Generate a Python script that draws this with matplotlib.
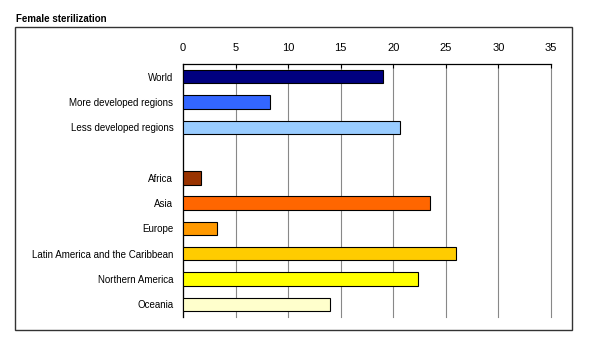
import matplotlib.pyplot as plt
from matplotlib.patches import Rectangle

plt.rcParams['font.family'] = ['Liberation Sans', 'DejaVu Sans']

regions = ["World", "More developed regions", "Less developed regions", "",
           "Africa", "Asia", "Europe", "Latin America and the Caribbean",
           "Northern America", "Oceania"]
values = [19.0, 8.3, 20.6, None, 1.7, 23.5, 3.2, 26.0, 22.4, 14.0]
colors = ["#000080", "#3366FF", "#99CCFF", None, "#993300", "#FF6600",
          "#FF9900", "#FFCC00", "#FFFF00", "#FFFFCC"]
ticks = [0, 5, 10, 15, 20, 25, 30, 35]

fig = plt.figure(figsize=(5.92, 3.49), dpi=100)
ax = fig.add_axes([0.3091, 0.0917, 0.6216, 0.7249])

for i, (v, c) in enumerate(zip(values, colors)):
    if v is None:
        continue
    ax.barh(i, v, height=0.53, color=c, edgecolor="black", linewidth=0.8, zorder=3)

ax.set_ylim(len(regions) - 0.5, -0.5)
ax.set_xlim(0, 35)
ax.set_xticks(ticks)
ax.set_yticks(range(len(regions)))
ax.set_yticklabels(regions)
ax.xaxis.tick_top()
ax.tick_params(axis="x", labelsize=8, length=3, width=0.8, direction="in", pad=8)
ax.tick_params(axis="y", labelsize=7, length=0, pad=7)
ax.grid(axis="x", color="#888888", linewidth=0.8, zorder=0)
for gl in ax.get_xgridlines():
    gl.set_clip_on(False)
for s in ["right", "bottom"]:
    ax.spines[s].set_visible(False)
ax.spines["top"].set_linewidth(0.9)
ax.spines["left"].set_linewidth(0.9)

fig.patches.append(Rectangle((0.0253, 0.0544), 0.9409, 0.8682, transform=fig.transFigure,
                             fill=False, edgecolor="#333333", linewidth=1.0))
fig.text(0.027, 0.945, "Female sterilization", fontsize=7, fontweight="bold", va="center")

fig.savefig("out.png", dpi=100)
